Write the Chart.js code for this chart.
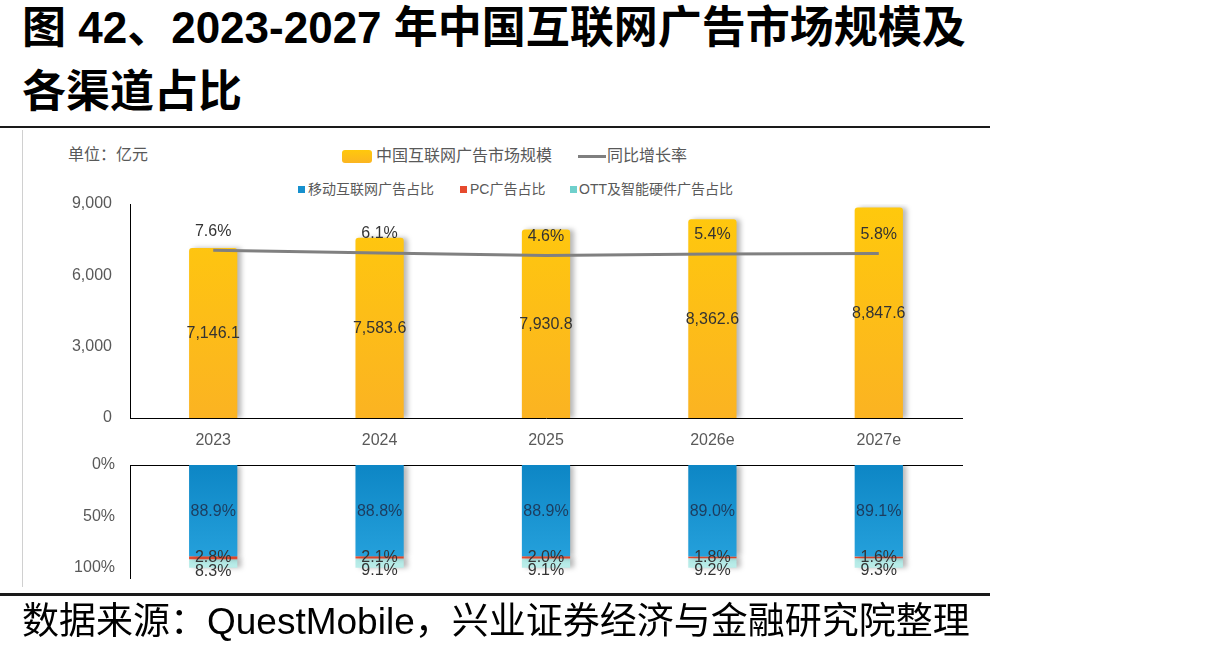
<!DOCTYPE html>
<html><head><meta charset="utf-8">
<script src="https://cdn.jsdelivr.net/npm/chart.js@4"></script>
<style>
body{margin:0;background:#fff;width:1228px;height:656px;overflow:hidden;position:relative;font-family:"Liberation Sans",Arial,"Noto Sans CJK SC",sans-serif;}
.abs{position:absolute;white-space:nowrap}
#title{left:22px;top:-4px;font-weight:bold;font-size:44px;line-height:64px;color:#000}
#rule1{left:0;top:126px;width:990px;height:2px;background:#1a1a1a}
#rule2{left:0;top:593px;width:990px;height:3px;background:#1a1a1a}
#vline{left:22px;top:130px;width:1px;height:457px;background:#d0d0d0}
#source{left:22px;top:600px;font-size:37px;line-height:44px;color:#000}
#unit{left:68px;top:145px;font-size:16px;line-height:20px;color:#595959}
.lg1{font-size:16px;line-height:20px;color:#595959;top:146px}
.lg2{font-size:14px;line-height:18px;color:#595959;top:180px}
.sq{width:7px;height:7px;top:186px}
canvas{display:block}
</style></head>
<body>
<div id="title" class="abs">图 42、2023-2027 年中国互联网广告市场规模及<br>各渠道占比</div>
<div id="rule1" class="abs"></div>
<div id="vline" class="abs"></div>
<div id="unit" class="abs">单位：亿元</div>
<div class="abs" style="left:342px;top:150px;width:30px;height:13px;border-radius:3px;background:linear-gradient(#FFC80C,#FBB521)"></div>
<div class="abs lg1" style="left:376px">中国互联网广告市场规模</div>
<div class="abs" style="left:578px;top:155px;width:28px;height:3px;background:#7f7f7f"></div>
<div class="abs lg1" style="left:607px">同比增长率</div>
<div class="abs sq" style="left:298px;background:#1690CE"></div>
<div class="abs lg2" style="left:308px">移动互联网广告占比</div>
<div class="abs sq" style="left:460px;background:#E64A2E"></div>
<div class="abs lg2" style="left:470px">PC广告占比</div>
<div class="abs sq" style="left:570px;background:#6FD0CC"></div>
<div class="abs lg2" style="left:579px">OTT及智能硬件广告占比</div>
<div class="abs" style="left:0;top:180px;width:1000px;height:278px"><canvas id="c1" width="1000" height="278"></canvas></div>
<div class="abs" style="left:0;top:440px;width:1000px;height:152px"><canvas id="c2" width="1000" height="152"></canvas></div>
<div id="rule2" class="abs"></div>
<div id="source" class="abs">数据来源：QuestMobile，兴业证券经济与金融研究院整理</div>
<script>
const categories = ['2023', '2024', '2025', '2026e', '2027e'];
const marketSize = [7146.1, 7583.6, 7930.8, 8362.6, 8847.6];
const growthRate = [7.6, 6.1, 4.6, 5.4, 5.8];
const mobileShare = [88.9, 88.8, 88.9, 89.0, 89.1];
const pcShare = [2.8, 2.1, 2.0, 1.8, 1.6];
const ottShare = [8.3, 9.1, 9.1, 9.2, 9.3];
const sizeTicks = [0, 3000, 6000, 9000];
const shareTicks = [0, 50, 100];

const FONT = '"Liberation Sans", Arial, "Noto Sans CJK SC", sans-serif';
Chart.defaults.font.family = FONT;
Chart.defaults.color = '#595959';

function grad(c, stops) {
  const a = c.chart.chartArea;
  if (!a) return stops[0];
  const g = c.chart.ctx.createLinearGradient(0, a.top, 0, a.bottom);
  g.addColorStop(0, stops[0]); g.addColorStop(1, stops[1]);
  return g;
}
const shadow = {
  id: 'shadow',
  beforeDatasetDraw(chart, args) {
    if (chart.data.datasets[args.index].type === 'line') return;
    const c = chart.ctx; c.save();
    c.shadowColor = 'rgba(0,0,0,0.28)'; c.shadowBlur = 5; c.shadowOffsetX = 4; c.shadowOffsetY = 0;
  },
  afterDatasetDraw(chart, args) {
    if (chart.data.datasets[args.index].type === 'line') return;
    chart.ctx.restore();
  }
};
const fmt = v => v.toLocaleString('en-US', {minimumFractionDigits: 1, maximumFractionDigits: 1});
const fitY = s => { s.width = 130; s.paddingTop = 0; s.paddingBottom = 0; };

const topLabels = {
  id: 'topLabels',
  afterDatasetsDraw(chart) {
    const ctx = chart.ctx; ctx.save();
    ctx.font = '16px ' + FONT; ctx.fillStyle = '#333'; ctx.textAlign = 'center'; ctx.textBaseline = 'middle';
    chart.getDatasetMeta(1).data.forEach((b, i) => {
      const p = b.getProps(['x', 'y', 'base'], true);
      ctx.fillText(fmt(marketSize[i]), p.x, (p.y + p.base) / 2 + 1);
    });
    chart.getDatasetMeta(0).data.forEach((pt, i) => {
      ctx.fillText(growthRate[i].toFixed(1) + '%', pt.x, pt.y - 19);
    });
    ctx.restore();
  }
};

new Chart(document.getElementById('c1'), {
  data: {
    labels: categories,
    datasets: [
      {type: 'line', label: '同比增长率', data: growthRate, yAxisID: 'y1', borderColor: '#808080', borderWidth: 3, pointRadius: 0, tension: 0, order: 0},
      {type: 'bar', label: '中国互联网广告市场规模', data: marketSize, yAxisID: 'y',
       backgroundColor: c => grad(c, ['#FFC90C', '#FBB322']), borderRadius: {topLeft: 3, topRight: 3}, borderSkipped: 'bottom',
       categoryPercentage: 1, barPercentage: 0.29, order: 1}
    ]
  },
  options: {
    responsive: false, animation: false, devicePixelRatio: 1,
    layout: {padding: {top: 24, right: 38, left: 0, bottom: 0}},
    plugins: {legend: {display: false}, tooltip: {enabled: false}},
    scales: {
      x: {grid: {display: false}, border: {display: true, color: '#000', width: 1},
          ticks: {padding: 5, font: {size: 16}, color: '#595959'},
          afterFit: s => { s.height = 40; }},
      y: {min: 0, max: 9000, grid: {display: false}, border: {display: true, color: '#000', width: 1},
          afterBuildTicks: s => { s.ticks = sizeTicks.map(v => ({value: v})); },
          ticks: {padding: 10, font: {size: 16}, color: '#595959', callback: v => v.toLocaleString('en-US')},
          afterFit: fitY},
      y1: {display: false, min: -92.2, max: 35.2}
    }
  },
  plugins: [shadow, topLabels]
});

const botLabels = {
  id: 'botLabels',
  afterDatasetsDraw(chart) {
    const ctx = chart.ctx; ctx.save();
    ctx.font = '16px ' + FONT; ctx.textAlign = 'center'; ctx.textBaseline = 'middle';
    const sets = [[mobileShare, '#1d3c5e', 1], [pcShare, '#333', 0], [ottShare, '#333', 8]];
    sets.forEach(([arr, col, off], d) => {
      ctx.fillStyle = col;
      chart.getDatasetMeta(d).data.forEach((b, i) => {
        const p = b.getProps(['x', 'y', 'base'], true);
        ctx.fillText(arr[i].toFixed(1) + '%', p.x, (p.y + p.base) / 2 + off);
      });
    });
    ctx.restore();
  }
};

new Chart(document.getElementById('c2'), {
  type: 'bar',
  data: {
    labels: categories,
    datasets: [
      {label: '移动互联网广告占比', data: mobileShare, backgroundColor: c => grad(c, ['#0D86C5', '#2AA6E0']), categoryPercentage: 1, barPercentage: 0.29},
      {label: 'PC广告占比', data: pcShare, backgroundColor: '#E64A2E', categoryPercentage: 1, barPercentage: 0.29},
      {label: 'OTT及智能硬件广告占比', data: ottShare, backgroundColor: c => grad(c, ['#5FCBC8', '#C3F0EC']), categoryPercentage: 1, barPercentage: 0.29}
    ]
  },
  options: {
    responsive: false, animation: false, devicePixelRatio: 1,
    layout: {padding: {top: 25, right: 38, left: 0, bottom: 14}},
    plugins: {legend: {display: false}, tooltip: {enabled: false}},
    scales: {
      x: {position: 'top', stacked: true, grid: {display: false}, border: {display: true, color: '#000', width: 1},
          ticks: {display: false}, afterFit: s => { s.height = 0; }},
      y: {stacked: true, reverse: true, min: 0, max: 110, grid: {display: false}, border: {display: true, color: '#000', width: 1},
          afterBuildTicks: s => { s.ticks = shareTicks.map(v => ({value: v})); },
          ticks: {padding: 7, font: {size: 16}, color: '#595959', callback: v => v + '%'},
          afterFit: fitY}
    }
  },
  plugins: [shadow, botLabels]
});
</script>
</body></html>
